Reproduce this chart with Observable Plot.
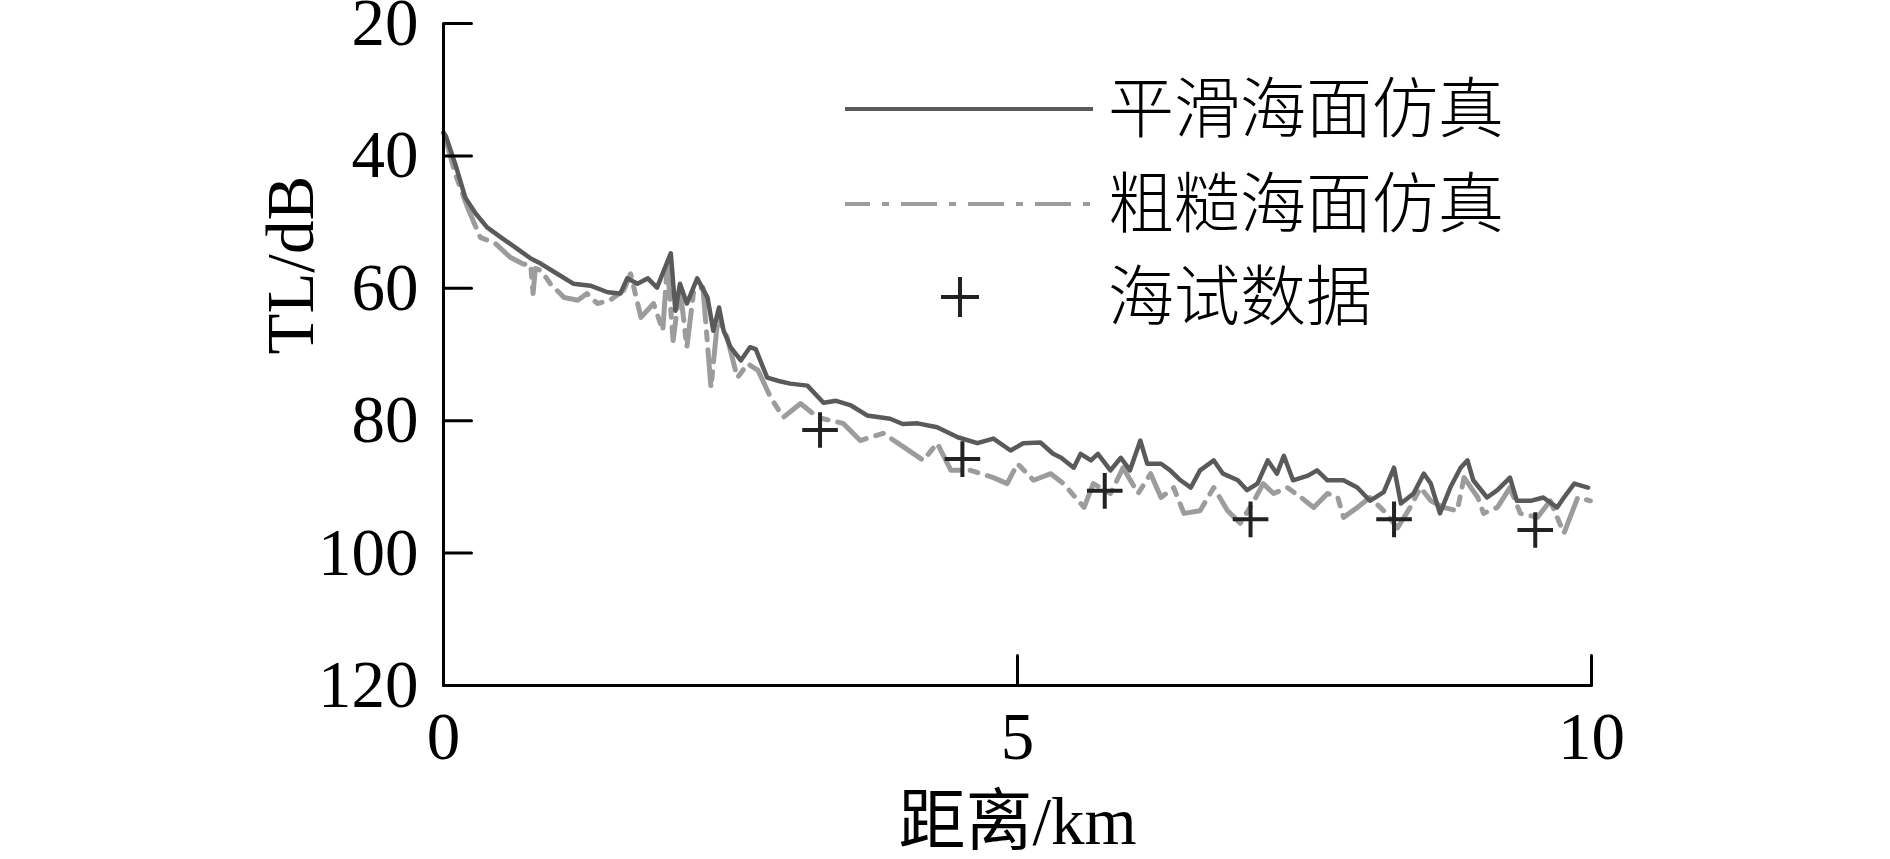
<!DOCTYPE html>
<html>
<head>
<meta charset="utf-8">
<script src="https://cdn.jsdelivr.net/npm/d3@7"></script>
<script src="https://cdn.jsdelivr.net/npm/@observablehq/plot@0.6"></script>
<style>
  html, body { margin: 0; padding: 0; background: #fff; }
  #chart { width: 1890px; height: 859px; }
</style>
</head>
<body>
<div id="chart"></div>
<script>
// ---- data ----
const smoothX = [0.00,0.02,0.10,0.19,0.28,0.38,0.50,0.64,0.76,0.85,0.99,1.13,1.28,1.43,1.54,1.60,1.69,1.78,1.86,1.98,2.02,2.06,2.12,2.21,2.30,2.35,2.40,2.44,2.50,2.59,2.67,2.72,2.82,2.92,3.02,3.17,3.31,3.42,3.55,3.69,3.89,4.00,4.13,4.30,4.48,4.65,4.79,4.94,5.05,5.20,5.31,5.38,5.49,5.55,5.64,5.70,5.81,5.90,5.98,6.07,6.13,6.25,6.33,6.42,6.51,6.59,6.71,6.79,6.92,7.00,7.09,7.18,7.26,7.32,7.40,7.53,7.61,7.70,7.79,7.84,7.96,8.07,8.19,8.28,8.34,8.45,8.54,8.60,8.68,8.77,8.86,8.92,8.97,9.09,9.18,9.29,9.35,9.47,9.58,9.70,9.76,9.85,9.97];
const smoothTL = [36.5,37.0,41.1,46.3,48.7,50.8,52.3,54.0,55.5,56.3,57.8,59.3,59.6,60.6,60.8,58.5,59.3,58.5,59.9,54.7,63.4,59.3,62.3,58.5,61.4,66.4,62.9,66.4,68.9,70.9,68.9,69.2,73.5,74.0,74.4,74.7,77.3,77.0,77.7,79.2,79.7,80.5,80.4,81.0,82.5,83.4,82.7,84.5,83.4,83.3,85.0,85.6,87.1,85.0,86.0,85.0,87.5,85.6,87.5,83.0,86.5,86.5,87.5,89.0,90.1,87.5,86.0,88.0,89.0,90.5,89.5,86.0,88.0,85.3,89.0,88.3,87.5,89.0,89.0,89.0,90.1,92.1,90.8,87.1,92.5,91.0,88.0,89.5,94.0,90.1,87.1,86.0,89.0,91.6,90.5,88.6,92.1,92.1,91.6,93.1,91.6,89.5,90.1];

const roughX = [0.00,0.02,0.10,0.21,0.32,0.45,0.58,0.69,0.76,0.78,0.80,0.85,0.93,1.05,1.17,1.25,1.34,1.45,1.57,1.63,1.72,1.83,1.91,1.95,2.00,2.06,2.12,2.18,2.26,2.33,2.39,2.47,2.56,2.65,2.74,2.85,2.96,3.11,3.26,3.48,3.63,3.83,4.01,4.18,4.30,4.42,4.59,4.79,4.91,5.00,5.14,5.29,5.40,5.58,5.66,5.81,5.92,6.05,6.16,6.25,6.36,6.45,6.59,6.71,6.83,6.94,7.06,7.14,7.23,7.35,7.47,7.58,7.70,7.79,7.84,7.96,8.07,8.19,8.31,8.42,8.51,8.60,8.71,8.83,8.89,9.01,9.06,9.18,9.29,9.38,9.53,9.64,9.76,9.88,9.99];
const roughTL = [36.5,37.5,42.6,47.8,52.3,53.2,55.3,56.3,56.5,60.8,57.0,57.3,59.3,61.4,61.8,60.8,62.3,61.8,60.3,57.8,64.4,62.3,66.4,56.3,67.9,59.9,68.9,60.3,59.9,75.0,64.4,67.4,73.5,71.4,72.4,76.5,79.5,77.4,79.5,80.4,83.0,81.9,84.0,86.0,83.4,87.5,87.5,88.6,89.5,86.5,89.0,88.0,89.5,93.1,89.5,91.0,87.1,91.0,88.0,91.6,90.1,94.0,93.6,90.1,93.6,95.5,92.1,89.5,91.0,90.1,91.6,93.1,91.0,91.6,94.6,93.1,91.6,93.6,96.2,93.1,90.1,92.1,93.1,93.6,88.6,91.6,94.0,93.1,90.1,94.0,94.6,92.1,97.0,91.6,92.1];

const trialX = [3.28,4.52,5.76,7.03,8.28,9.51];
const trialTL = [81.4,85.8,90.6,94.9,94.9,96.5];

const xTicks = [0,5,10];
const yTicks = [20,40,60,80,100,120];
const seriesNames = ["平滑海面仿真","粗糙海面仿真","海试数据"];
const xLabel = "距离/km";
const yLabel = "TL/dB";

// ---- tables ----
const smooth = smoothX.map((x,i)=>({x, y: smoothTL[i]}));
const rough = roughX.map((x,i)=>({x, y: roughTL[i]}));
const trial = trialX.map((x,i)=>({x, y: trialTL[i]}));

const FONT = '"Liberation Serif", "Noto Sans CJK SC", serif';
const FS = 67;
const tickShape = { draw(ctx, l) { ctx.moveTo(0, 0); ctx.lineTo(0, -l); } };

const chart = Plot.plot({
  width: 1890,
  height: 859,
  marginLeft: 443,
  marginRight: 299,
  marginTop: 23,
  marginBottom: 174,
  x: { domain: [0, 10] },
  y: { domain: [20, 120], reverse: true },
  style: { fontFamily: FONT, fontSize: FS + "px", color: "#000", background: "#fff" },
  marks: [
    Plot.line(rough, { x: "x", y: "y", stroke: "#9c9c9c", strokeWidth: 5, strokeDasharray: "36,10,8,10" }),
    Plot.line(smooth, { x: "x", y: "y", stroke: "#5a5a5a", strokeWidth: 4.5 }),
    Plot.dot(trial, { x: "x", y: "y", symbol: "plus", r: 11.5, stroke: "#222", strokeWidth: 4 }),
    // axis lines
    Plot.ruleX([0], { stroke: "#000", strokeWidth: 3 }),
    Plot.ruleY([120], { stroke: "#000", strokeWidth: 3 }),
    // inward ticks
    Plot.vector(yTicks, { x: 0, y: d => d, length: 28, rotate: 90, anchor: "start", shape: tickShape, stroke: "#000", strokeWidth: 3 }),
    Plot.vector(xTicks, { x: d => d, y: 120, length: 30, rotate: 0, anchor: "start", shape: tickShape, stroke: "#000", strokeWidth: 3 }),
    // tick labels
    Plot.axisY(yTicks, { anchor: "left", tickSize: 0, tickPadding: 25, tickFormat: d3.format("d"), label: null, fontSize: FS, fill: "#000" }),
    Plot.axisX(xTicks, { anchor: "bottom", tickSize: 0, tickPadding: 26, tickFormat: d3.format("d"), label: null, fontSize: FS, fill: "#000" }),
    // axis titles
    Plot.text([xLabel], { frameAnchor: "bottom", dy: 137, lineAnchor: "middle", fontSize: FS, fill: "#000" }),
    Plot.text([yLabel], { frameAnchor: "left", dx: -152, rotate: -90, lineAnchor: "middle", fontSize: FS, fill: "#000" })
  ]
});

document.getElementById("chart").appendChild(chart);

// ---- legend (inside the plot area, top right) ----
const svg = d3.select(chart);
const lg = svg.append("g").attr("class", "legend");
const rows = [109, 204, 297];
lg.append("line").attr("x1", 845).attr("x2", 1093).attr("y1", rows[0]).attr("y2", rows[0])
  .attr("stroke", "#5a5a5a").attr("stroke-width", 4);
lg.append("line").attr("x1", 845).attr("x2", 1093).attr("y1", rows[1]).attr("y2", rows[1])
  .attr("stroke", "#9c9c9c").attr("stroke-width", 4).attr("stroke-dasharray", "36,12,7,12").attr("stroke-dashoffset", 11);
lg.append("path").attr("d", `M${960-19},${rows[2]}h38M960,${rows[2]-20}v40`)
  .attr("stroke", "#222").attr("stroke-width", 4).attr("fill", "none");
seriesNames.forEach((name, i) => {
  lg.append("text").attr("x", 1108).attr("y", rows[i]).attr("dy", "0.35em")
    .attr("text-anchor", "start").attr("font-size", 66).attr("font-family", FONT)
    .attr("font-weight", 300)
    .attr("fill", "#000").text(name);
});
</script>
</body>
</html>
